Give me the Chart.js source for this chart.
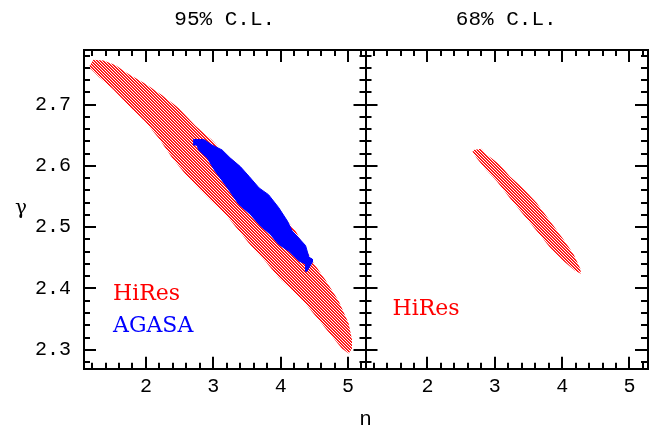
<!DOCTYPE html>
<html>
<head>
<meta charset="utf-8">
<script src="https://cdn.jsdelivr.net/npm/chart.js@4.4.1/dist/chart.umd.min.js"></script>
<style>
html,body{margin:0;padding:0;background:#ffffff;overflow:hidden;}
canvas{display:block;}
</style>
</head>
<body>
<canvas id="chart" width="659" height="432"></canvas>
<script>
// ---------------- data ----------------
const xTickValues = [2, 3, 4, 5];
const xTickLabels = ['2', '3', '4', '5'];
const yTickValues = [2.3, 2.4, 2.5, 2.6, 2.7];
const yTickLabels = ['2.3', '2.4', '2.5', '2.6', '2.7'];
const panelTitles = ['95% C.L.', '68% C.L.'];
const xTitle = 'n';
const yTitle = 'γ';
const legendNames = ['HiRes', 'AGASA'];

// HiRes 95% C.L. region boundary (n, gamma)
const hires95N = [1.15, 1.22, 1.37, 1.55, 1.74, 1.99, 2.24, 2.49, 2.73, 2.98, 3.18, 3.38, 3.58, 3.77, 3.97, 4.22, 4.47, 4.67, 4.86, 5.01, 5.06, 5.06, 5.01,
                  4.91, 4.77, 4.57, 4.37, 4.17, 3.97, 3.77, 3.58, 3.38, 3.18, 2.98, 2.78, 2.59, 2.39, 2.19, 1.99, 1.74, 1.50, 1.30, 1.20];
const hires95G = [2.761, 2.773, 2.772, 2.764, 2.750, 2.734, 2.715, 2.694, 2.666, 2.642, 2.618, 2.602, 2.572, 2.553, 2.526, 2.494, 2.445, 2.413, 2.380, 2.343, 2.316, 2.302, 2.294,
                  2.302, 2.321, 2.348, 2.375, 2.397, 2.418, 2.445, 2.467, 2.494, 2.521, 2.542, 2.564, 2.586, 2.613, 2.645, 2.672, 2.699, 2.726, 2.745, 2.756];

// AGASA 95% C.L. region boundary
const agasaN = [2.70, 2.86, 2.98, 3.13, 3.25, 3.40, 3.53, 3.68, 3.82, 3.97, 4.10, 4.17, 4.37, 4.42, 4.47, 4.47, 4.39, 4.37,
                4.37, 4.27, 4.12, 3.97, 3.85, 3.70, 3.55, 3.38, 3.28, 3.18, 3.03, 2.91, 2.78, 2.76, 2.70];
const agasaG = [2.643, 2.643, 2.634, 2.626, 2.613, 2.599, 2.583, 2.564, 2.553, 2.532, 2.510, 2.494, 2.470, 2.451, 2.448, 2.443, 2.428, 2.428,
                2.440, 2.445, 2.461, 2.472, 2.488, 2.502, 2.521, 2.537, 2.553, 2.569, 2.591, 2.613, 2.626, 2.634, 2.634];

// HiRes 68% C.L. region boundary
const hires68N = [2.68, 2.80, 2.88, 3.08, 3.22, 3.42, 3.62, 3.82, 4.02, 4.17, 4.27, 4.28,
                  4.19, 4.02, 3.82, 3.62, 3.42, 3.22, 3.03, 2.85, 2.73, 2.67];
const hires68G = [2.626, 2.628, 2.618, 2.602, 2.583, 2.564, 2.540, 2.510, 2.480, 2.456, 2.432, 2.424,
                  2.429, 2.445, 2.467, 2.494, 2.521, 2.548, 2.575, 2.596, 2.613, 2.623];

const xRange = [1.08, 5.26];
const yRange = [2.269, 2.789];

// ---------------- styles ----------------
const RED = '#ff0000';
const BLUE = '#0000ff';
const tickFont = {family: 'Liberation Mono', size: 20, weight: 'normal'};
const titleFont = {family: 'Liberation Mono', size: 21, weight: 'normal'};

function makeHatch() {
  const c = document.createElement('canvas');
  c.width = 3; c.height = 3;
  const g = c.getContext('2d');
  const img = g.createImageData(3, 3);
  for (let y = 0; y < 3; y++) {
    const i = (y * 3 + y) * 4;
    img.data[i] = 255; img.data[i + 1] = 0; img.data[i + 2] = 0; img.data[i + 3] = 255;
    const x2 = (y + 1) % 3;
    const k = (y * 3 + x2) * 4;
    img.data[k] = 255; img.data[k + 1] = 0; img.data[k + 2] = 0; img.data[k + 3] = 190;
  }
  g.putImageData(img, 0, 0);
  return g.createPattern(c, 'repeat');
}
const hatch = makeHatch();

const toPts = (ns, gs) => ns.map((n, i) => ({x: n, y: gs[i]}));

function bottomAxis() {
  return {
    type: 'linear', position: 'bottom', stack: 'xb', stackWeight: 1,
    min: xRange[0], max: xRange[1],
    afterBuildTicks: s => { s.ticks = xTickValues.map(v => ({value: v})); },
    afterFit: s => { s.height = 32; },
    ticks: {font: tickFont, color: '#000', padding: 6, maxRotation: 0, autoSkip: false,
            callback: (v, i) => xTickLabels[i]},
    grid: {display: false, drawTicks: false},
    border: {display: false}
  };
}

const MAJOR = 12, MINOR = 6;
const framePlugin = {
  id: 'frameTicks',
  afterDraw(chart) {
    const ctx = chart.ctx;
    const ys = chart.scales.y;
    const T = ys.top, B = ys.bottom;
    ctx.save();
    ctx.strokeStyle = '#000';
    ['x1', 'x2'].forEach((id, p) => {
      const xs = chart.scales[id];
      const L = xs.left, R = xs.right;
      ctx.lineWidth = 2;
      ctx.beginPath();
      for (let i = Math.ceil(xs.min * 5 - 1e-9); i <= Math.floor(xs.max * 5 + 1e-9); i++) {
        const px = Math.round(xs.getPixelForValue(i / 5));
        const len = (i % 5 === 0) ? MAJOR : MINOR;
        ctx.moveTo(px, B); ctx.lineTo(px, B - len);
        ctx.moveTo(px, T); ctx.lineTo(px, T + len);
      }
      for (let j = Math.ceil(ys.min * 50 - 1e-9); j <= Math.floor(ys.max * 50 + 1e-9); j++) {
        const py = Math.round(ys.getPixelForValue(j / 50));
        const len = (j % 5 === 0) ? MAJOR : MINOR;
        ctx.moveTo(L, py); ctx.lineTo(L + len, py);
        ctx.moveTo(R, py); ctx.lineTo(R - len, py);
      }
      ctx.stroke();
      ctx.lineWidth = 2;
      ctx.strokeRect(Math.round(L), Math.round(T), Math.round(R - L), Math.round(B - T));
      // panel title
      ctx.fillStyle = '#000';
      ctx.font = '21px "Liberation Mono"';
      ctx.textAlign = 'center';
      ctx.textBaseline = 'middle';
      ctx.fillText(panelTitles[p], (L + R) / 2, 19);
    });
    // legends inside panels
    const x1 = chart.scales.x1, x2 = chart.scales.x2;
    ctx.font = '22px "DejaVu Serif"';
    ctx.textAlign = 'left';
    ctx.textBaseline = 'alphabetic';
    ctx.fillStyle = RED;
    ctx.fillText(legendNames[0], x1.left + 29, T + 250);
    ctx.fillStyle = BLUE;
    ctx.fillText(legendNames[1], x1.left + 29, T + 282);
    ctx.fillStyle = RED;
    ctx.fillText(legendNames[0], x2.left + 27, T + 265);
    // y axis symbol
    ctx.fillStyle = '#000';
    ctx.font = '20px "DejaVu Serif"';
    ctx.textAlign = 'center';
    ctx.textBaseline = 'middle';
    ctx.fillText(yTitle, 21, 209);
    ctx.restore();
  }
};

new Chart(document.getElementById('chart'), {
  type: 'scatter',
  data: {
    datasets: [
      {label: 'HiRes 95%', xAxisID: 'x1', yAxisID: 'y', data: toPts(hires95N, hires95G), order: 2,
       showLine: true, fill: 'shape', backgroundColor: hatch, borderColor: 'rgba(0,0,0,0)', borderWidth: 0,
       pointRadius: 0, tension: 0},
      {label: 'AGASA 95%', xAxisID: 'x1', yAxisID: 'y', data: toPts(agasaN, agasaG), order: 1,
       showLine: true, fill: 'shape', backgroundColor: BLUE, borderColor: BLUE, borderWidth: 1,
       pointRadius: 0, tension: 0},
      {label: 'HiRes 68%', xAxisID: 'x2', yAxisID: 'y', data: toPts(hires68N, hires68G), order: 2,
       showLine: true, fill: 'shape', backgroundColor: hatch, borderColor: 'rgba(0,0,0,0)', borderWidth: 0,
       pointRadius: 0, tension: 0}
    ]
  },
  options: {
    responsive: false,
    animation: false,
    devicePixelRatio: 1,
    layout: {padding: {left: 0, right: 12, top: 50, bottom: 0}},
    scales: {
      x1: bottomAxis(),
      x2: bottomAxis(),
      y: {
        type: 'linear', position: 'left',
        min: yRange[0], max: yRange[1],
        afterBuildTicks: s => { s.ticks = yTickValues.map(v => ({value: v})); },
        afterFit: s => { s.width = 84; },
        ticks: {font: tickFont, color: '#000', padding: 13, autoSkip: false,
                callback: (v, i) => yTickLabels[i]},
        grid: {display: false, drawTicks: false},
        border: {display: false}
      }
    },
    plugins: {
      legend: {display: false},
      tooltip: {enabled: false},
      title: {display: true, text: xTitle, position: 'bottom', fullSize: false,
              font: titleFont, color: '#000', padding: {top: 6, bottom: 0}}
    }
  },
  plugins: [framePlugin]
});
</script>
</body>
</html>
